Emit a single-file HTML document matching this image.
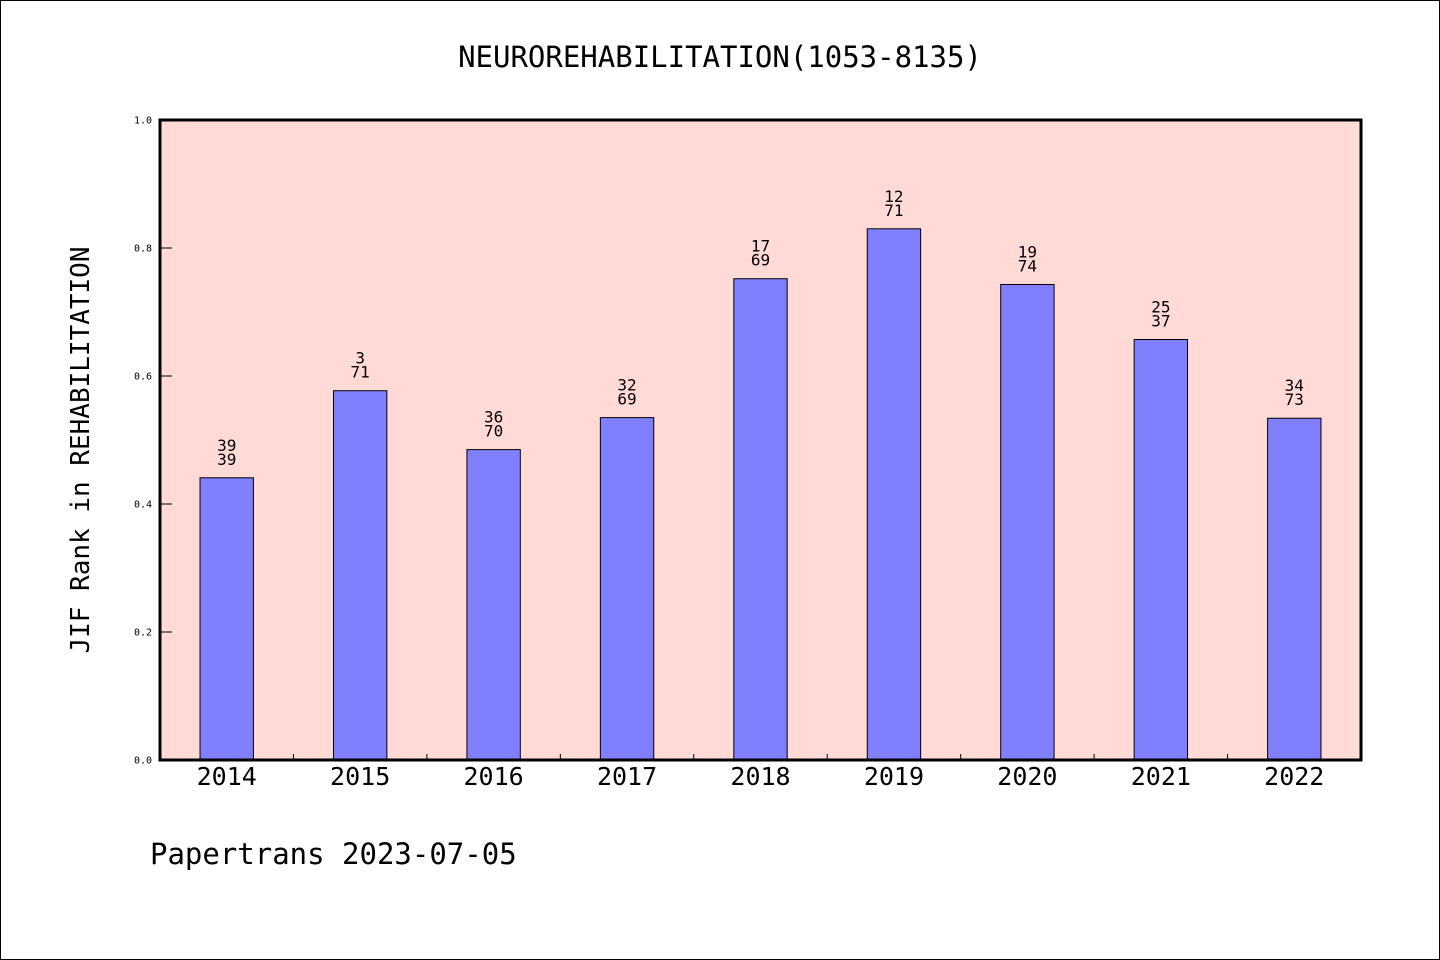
<!DOCTYPE html>
<html><head><meta charset="utf-8"><style>
html,body{margin:0;padding:0;background:#fff}
svg{display:block}
text{font-family:"WenQuanYi Zen Hei","DejaVu Sans Mono","Liberation Mono",monospace}
</style></head><body>
<svg id="chart" width="1440" height="960" xmlns="http://www.w3.org/2000/svg">
<rect x="0.5" y="0.5" width="1439" height="959" fill="#fff" stroke="#000" stroke-width="1"/>
<text x="720" y="67" text-anchor="middle" font-size="29">NEUROREHABILITATION(1053-8135)</text>
<rect x="160" y="120" width="1201" height="640" fill="#ffdad7"/>
<g id="bars"></g>
<g id="yticks"></g>
<g id="xticks"></g>
<rect x="160" y="120" width="1201" height="640" fill="none" stroke="#000" stroke-width="3"/>
<text transform="translate(89,450) rotate(-90)" text-anchor="middle" font-size="26">JIF Rank in REHABILITATION</text>
<text x="150" y="864" font-size="29">Papertrans 2023-07-05</text>
</svg>
<script>
const categories = ["2014","2015","2016","2017","2018","2019","2020","2021","2022"];
const values = [0.441, 0.577, 0.485, 0.535, 0.752, 0.830, 0.743, 0.657, 0.534];
const rankTop = ["39","3","36","32","17","12","19","25","34"];
const rankBottom = ["39","71","70","69","69","71","74","37","73"];
const yTicks = [0, 0.2, 0.4, 0.6, 0.8, 1.0];
const yTickLabels = ["0.0","0.2","0.4","0.6","0.8","1.0"];

const NS="http://www.w3.org/2000/svg";
const X0=160, X1=1361, Y0=760, Y1=120;
const band=(X1-X0)/categories.length;
const xc=i=>X0+band*(i+0.5);
const y=v=>Y0-(Y0-Y1)*v;
function mk(tag,attrs,parent){const e=document.createElementNS(NS,tag);for(const k in attrs)e.setAttribute(k,attrs[k]);parent.appendChild(e);return e;}
const gb=document.getElementById('bars'), gy=document.getElementById('yticks'), gx=document.getElementById('xticks');
const bw=band*0.4;
categories.forEach((c,i)=>{
  const r=mk('rect',{x:xc(i)-bw/2,y:y(values[i]),width:bw,height:Y0-y(values[i]),fill:'#8080ff',stroke:'#000','stroke-width':1},gb);
  
  
  const t1=mk('text',{x:xc(i),y:y(values[i])-27,'text-anchor':'middle','font-size':16},gb);t1.textContent=rankTop[i];
  
  
  const t2=mk('text',{x:xc(i),y:y(values[i])-13,'text-anchor':'middle','font-size':16},gb);t2.textContent=rankBottom[i];
  
  
  const xl=mk('text',{x:xc(i),y:785,'text-anchor':'middle','font-size':25},gx);xl.textContent=c;
  
  
  if(i>0){const tk=mk('line',{x1:X0+band*i,x2:X0+band*i,y1:Y0,y2:Y0-6,stroke:'#000','stroke-width':1},gx);
  
  }
});
yTicks.forEach((v,i)=>{
  const l=mk('line',{x1:X0,x2:X0+12,y1:y(v),y2:y(v),stroke:'#000','stroke-width':1},gy);
  
  
  const t=mk('text',{x:152,y:y(v)+3.5,'text-anchor':'end','font-size':10,'font-family':'Liberation Sans, sans-serif'},gy);t.textContent=yTickLabels[i];
  
  
});
</script>
</body></html>
